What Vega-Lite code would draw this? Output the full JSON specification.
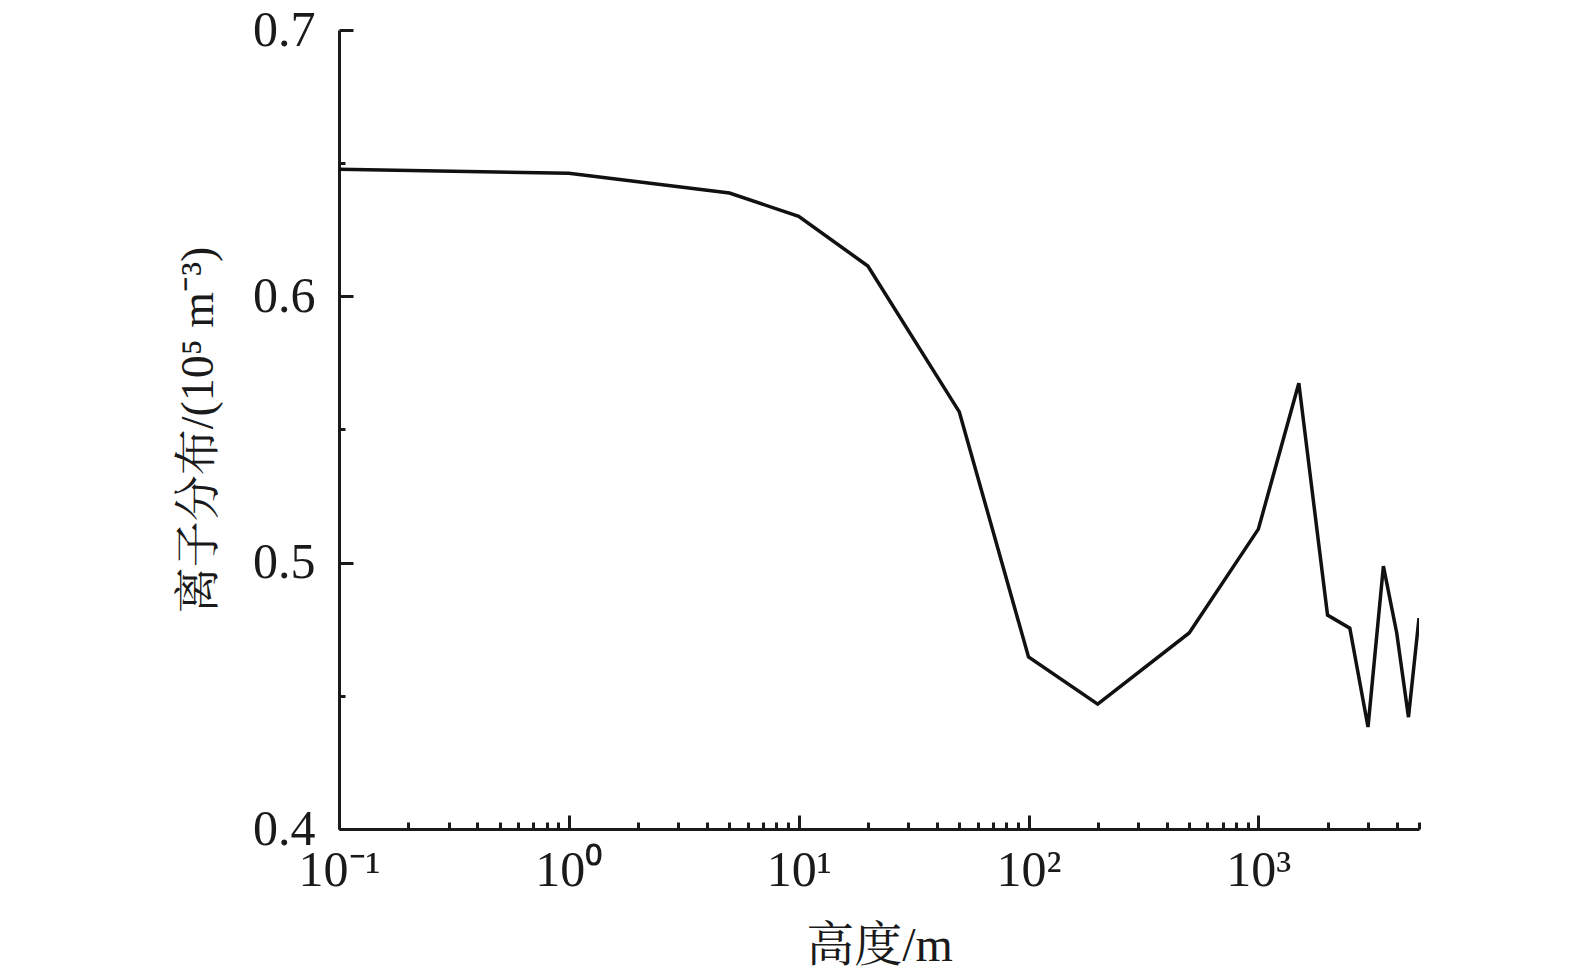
{
  "$schema": "https://vega.github.io/schema/vega-lite/v6.json",
  "width": 1080,
  "height": 799,
  "autosize": "none",
  "padding": {"left": 339, "top": 30, "right": 156, "bottom": 150},
  "background": "white",
  "data": {
    "values": [
      {"height": 0.1, "ion": 0.6477},
      {"height": 1, "ion": 0.6462},
      {"height": 5, "ion": 0.6388},
      {"height": 10, "ion": 0.6300},
      {"height": 20, "ion": 0.6114},
      {"height": 50, "ion": 0.5566},
      {"height": 100, "ion": 0.4646},
      {"height": 200, "ion": 0.4469},
      {"height": 500, "ion": 0.4736},
      {"height": 1000, "ion": 0.5126},
      {"height": 1500, "ion": 0.5674},
      {"height": 2000, "ion": 0.4803},
      {"height": 2500, "ion": 0.4754},
      {"height": 3000, "ion": 0.4383},
      {"height": 3500, "ion": 0.4987},
      {"height": 4000, "ion": 0.4736},
      {"height": 4500, "ion": 0.4420},
      {"height": 5000, "ion": 0.4792}
    ]
  },
  "mark": {"type": "line", "color": "#111111", "strokeWidth": 3.5, "clip": true},
  "encoding": {
    "x": {
      "field": "height",
      "type": "quantitative",
      "title": "高度/m",
      "scale": {"type": "log", "domain": [0.1, 5000], "nice": false},
      "axis": {
        "values": [0.1, 0.2, 0.3, 0.4, 0.5, 0.6, 0.7, 0.8, 0.9, 1, 2, 3, 4, 5, 6, 7, 8, 9, 10, 20, 30, 40, 50, 60, 70, 80, 90, 100, 200, 300, 400, 500, 600, 700, 800, 900, 1000, 2000, 3000, 4000, 5000],
        "labelExpr": "datum.value == 0.1 ? '10⁻¹' : datum.value == 1 ? '10⁰' : datum.value == 10 ? '10¹' : datum.value == 100 ? '10²' : datum.value == 1000 ? '10³' : ''",
        "tickSize": {"condition": {"test": "datum.value == 0.1 || datum.value == 1 || datum.value == 10 || datum.value == 100 || datum.value == 1000", "value": -14}, "value": -7},
        "labelPadding": 30,
        "labelFontSize": 50,
        "labelFlush": false,
        "labelOverlap": false,
        "titleFontSize": 48,
        "titlePadding": 20
      }
    },
    "y": {
      "field": "ion",
      "type": "quantitative",
      "title": "离子分布/(10⁵ m⁻³)",
      "scale": {"domain": [0.4, 0.7], "nice": false, "zero": false},
      "axis": {
        "values": [0.4, 0.45, 0.5, 0.55, 0.6, 0.65, 0.7],
        "labelExpr": "datum.value == 0.45 || datum.value == 0.55 || datum.value == 0.65 ? '' : format(datum.value, '.1f')",
        "tickSize": {"condition": {"test": "datum.value == 0.45 || datum.value == 0.55 || datum.value == 0.65", "value": -6}, "value": -14},
        "labelPadding": 38,
        "labelFontSize": 50,
        "labelFlush": false,
        "labelOverlap": false,
        "titleFontSize": 46,
        "titlePadding": 30
      }
    }
  },
  "config": {
    "view": {"stroke": null},
    "axis": {
      "grid": false,
      "domainColor": "#1a1a1a",
      "domainWidth": 3,
      "tickColor": "#1a1a1a",
      "tickWidth": 3,
      "labelColor": "#1a1a1a",
      "titleColor": "#1a1a1a",
      "labelFont": "Liberation Serif",
      "titleFont": "Liberation Serif, Noto Serif CJK SC, Noto Sans CJK SC",
      "titleFontWeight": "normal"
    }
  }
}
